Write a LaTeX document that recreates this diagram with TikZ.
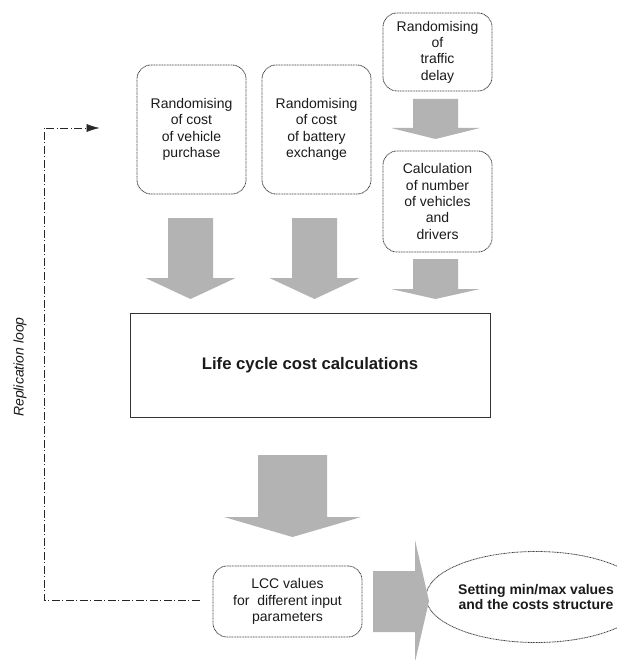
\documentclass[tikz,border=0pt]{standalone}
\usepackage{fontspec}
\setmainfont{Liberation Sans}
\usetikzlibrary{calc}
\usetikzlibrary{arrows.meta}
\usetikzlibrary{shapes.geometric}
\definecolor{blockgray}{RGB}{179,179,179}
\definecolor{textdark}{RGB}{26,26,26}

\begin{document}
\begin{tikzpicture}[x=1pt,y=-1pt,
  every node/.style={text=textdark, font=\fontsize{14}{16.3}\selectfont},
  randbox/.style={draw=black!75, line width=.8pt, dash pattern=on 1pt off .6pt,
    rounded corners=14pt, align=center, inner sep=2pt},
  calcbox/.style={draw=black!80, line width=.8pt, align=center},
  loopline/.style={black!85, line width=.7pt, dash pattern=on 8pt off 2.5pt on 1pt off 2.5pt}]
\useasboundingbox (0,0) rectangle (617,660);

% input boxes
\node[randbox, minimum width=109, minimum height=129] (purchase) at (191.5,129.5)
  {Randomising\\of cost\\of vehicle\\purchase};
\node[randbox, minimum width=109, minimum height=129] (battery) at (316.5,129.5)
  {Randomising\\of cost\\of battery\\exchange};
\node[randbox, minimum width=109, minimum height=78] (delay) at (437.5,52)
  {Randomising\\of\\traffic\\delay};
\node[randbox, minimum width=109, minimum height=101] (drivers) at (437.5,201.5)
  {Calculation\\of number\\of vehicles\\and\\drivers};

% main calculation
\node[calcbox, minimum width=360, minimum height=104, font=\fontsize{16.7}{19}\selectfont\bfseries] (lcc) at (310,365)
  {Life cycle cost calculations};

% results
\node[randbox, minimum width=149, minimum height=71] (values) at (287.5,601.5)
  {LCC values\\for\ \ different input\\parameters};
\node[ellipse, draw=black!75, line width=.8pt, dash pattern=on 1pt off .6pt,
  minimum width=198, minimum height=91, inner sep=0pt, align=center, font=\fontsize{14}{15.5}\selectfont\bfseries] (setting) at (536,597)
  {Setting min/max values\\and the costs structure};

% block arrows (down)
\foreach \cx/\ya/\yb/\yc/\sw/\hw in {190.5/218/278/299/22.5/45, 314.5/218/278/299/22.5/45,
  435.5/99/128/139/22.5/44.5, 435.5/259/289/299/22.5/44.5, 292.5/455/517/537/34.5/68.5} {
\fill[blockgray] (\cx-\sw,\ya) -- (\cx+\sw,\ya) -- (\cx+\sw,\yb) -- (\cx+\hw,\yb)
  -- (\cx,\yc) -- (\cx-\hw,\yb) -- (\cx-\sw,\yb) -- cycle;
}
% block arrow (right)
\fill[blockgray] (373,571) -- (415,571) -- (415,540) -- (429,601) -- (415,662)
  -- (415,632) -- (373,632) -- cycle;

% replication loop
\coordinate (loopstart) at ($(values.west)+(-13,-1.5)$);
\coordinate (loopfoot) at (44,600);
\coordinate (loophead) at (44,128);
\coordinate (looptip) at ($(purchase.west)+(-37,-1.5)$);
\draw[loopline, -{Latex[length=13pt,width=8pt]}] (loopstart) -- (loopfoot) -- (loophead) -- (looptip);
\node[rotate=90, font=\fontsize{14}{16}\selectfont\itshape] (looplabel) at (20,367) {Replication loop};
\end{tikzpicture}
\end{document}
